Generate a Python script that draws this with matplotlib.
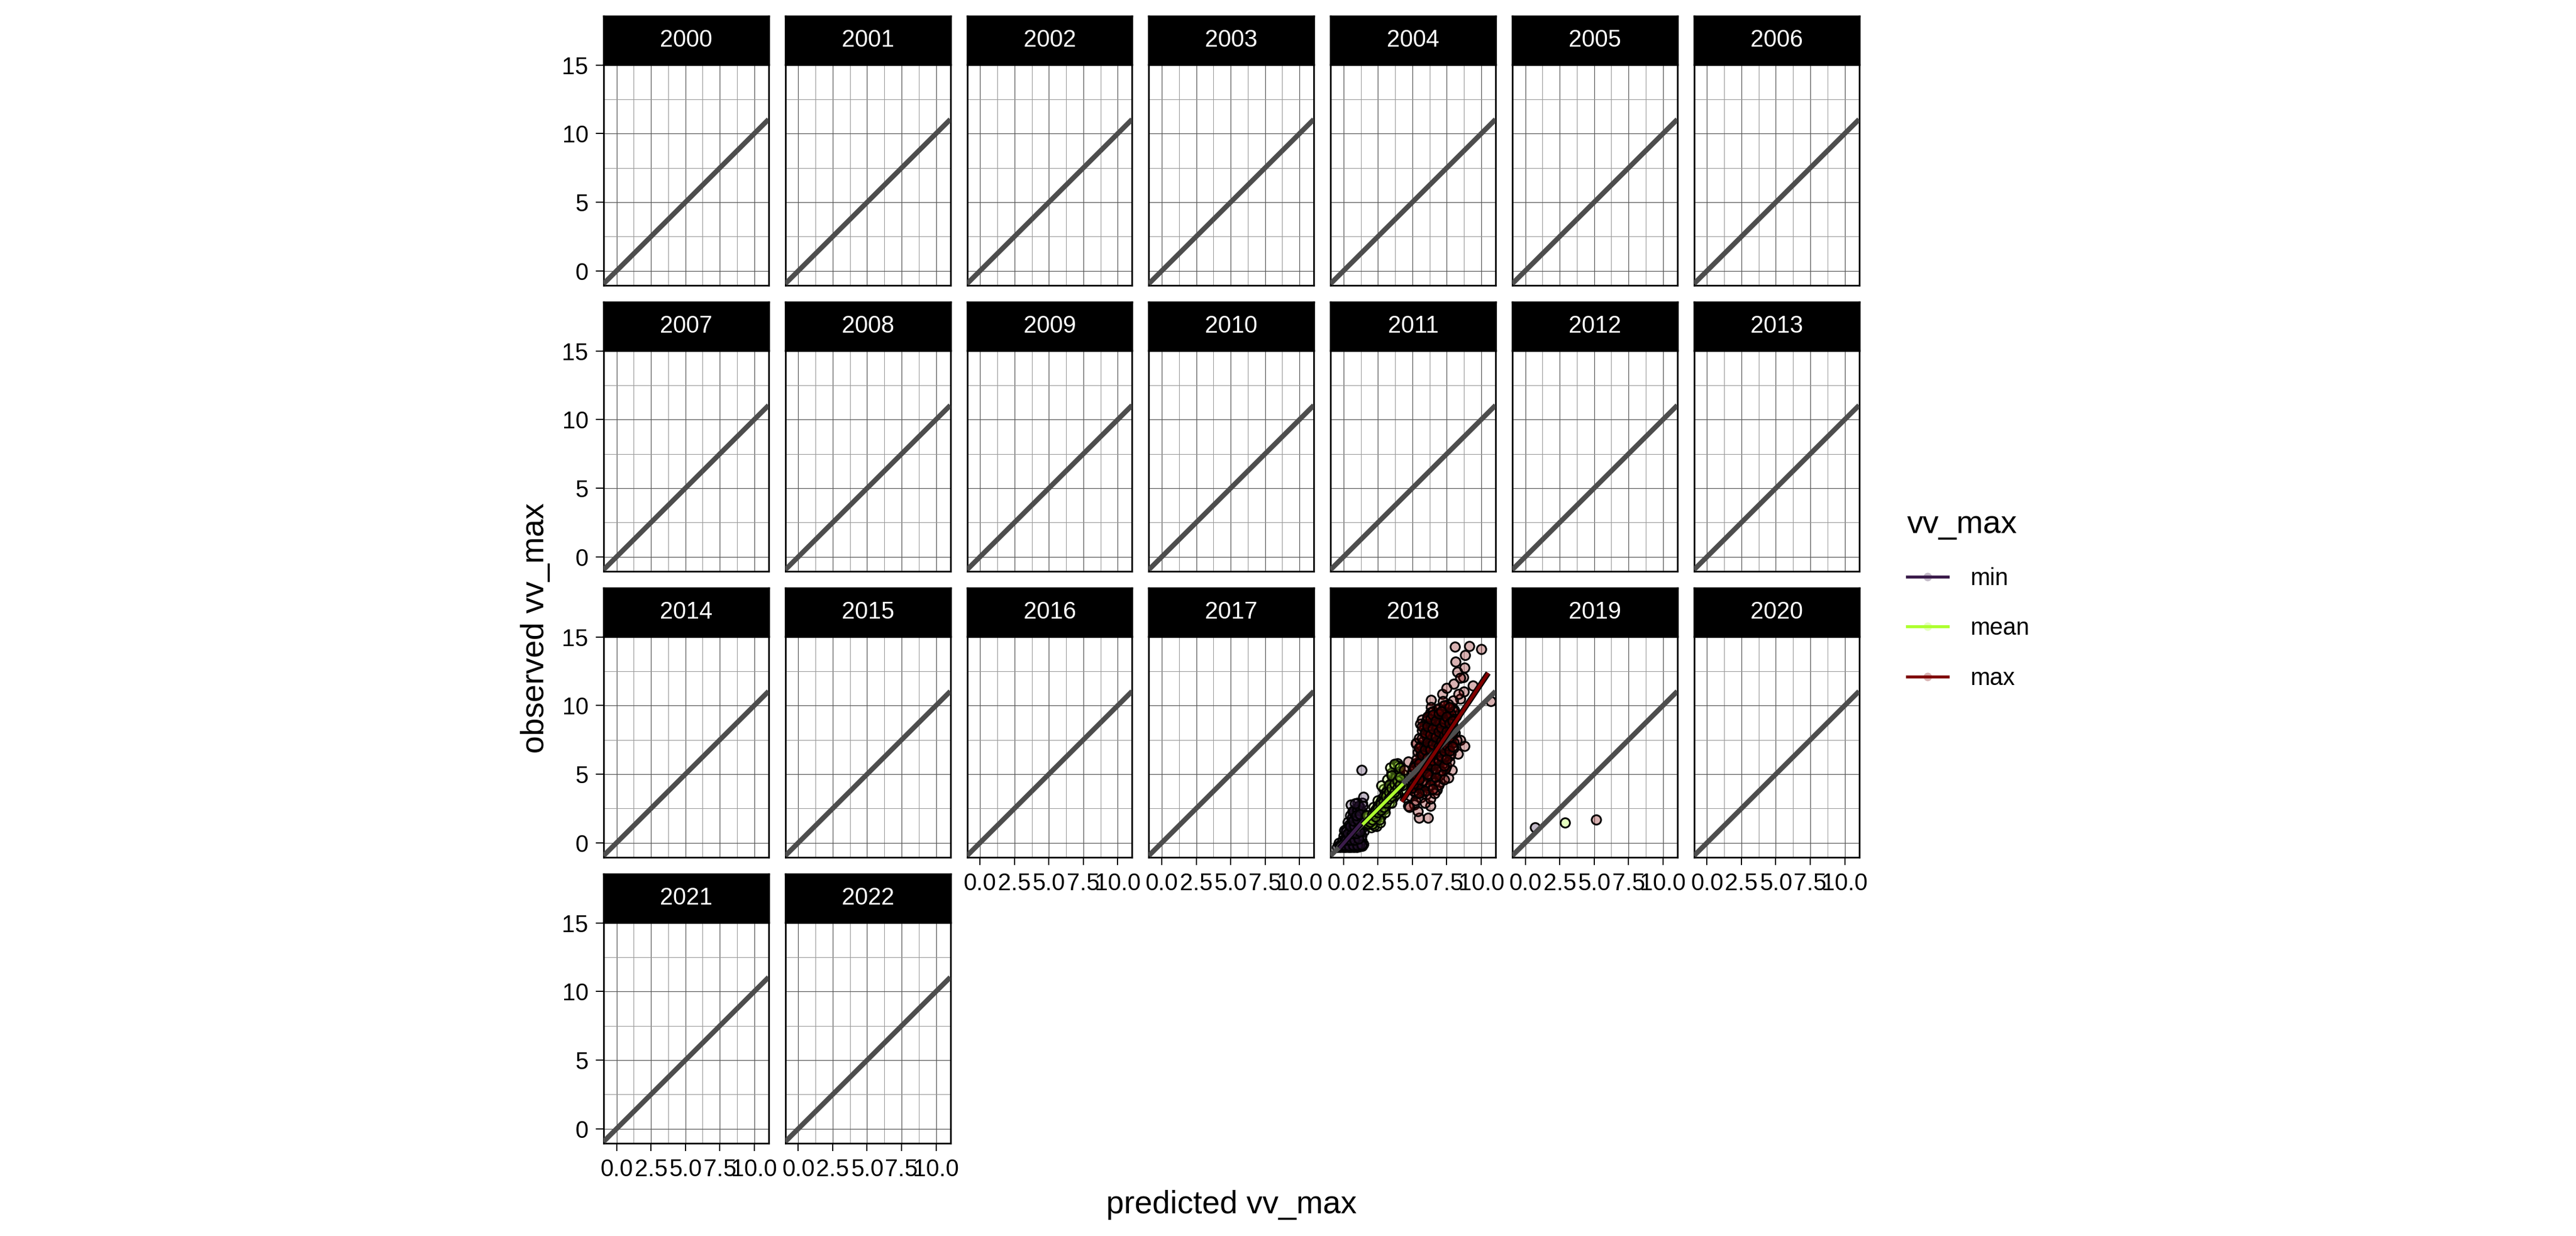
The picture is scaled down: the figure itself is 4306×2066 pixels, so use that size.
import matplotlib
matplotlib.use("Agg")
import matplotlib.pyplot as plt
import matplotlib.patheffects as pe
from matplotlib.lines import Line2D
from matplotlib.ticker import FixedLocator
from matplotlib.colors import to_rgba

plt.rcParams["font.family"] = ["Liberation Sans", "DejaVu Sans"]

# ---- data -------------------------------------------------------------
years = list(range(2000, 2023))
groups = ["min", "mean", "max"]
group_colors = {"min": "#3B1C4B", "mean": "#ADFF2F", "max": "#800000"}

# 2018: predicted vs observed, one cloud per statistic
min_x_2018 = [-0.45, -0.25, -0.05, 0.15, 0.35, 0.55, 0.75, 0.95, 1.15, 1.35, 1.45,
              -0.35, -0.1, 0.15, 0.4, 0.7, 1.0, 1.3, 0.0, 0.3, 0.6, 0.9, 1.2,
              0.2, 0.5, 0.8, 1.1, 1.4, 0.3, 0.6, 0.9, 1.2, 0.5, 0.8, 1.1, 1.4,
              0.9, 1.2, 1.0, 1.35, 0.55, 1.42, 1.32, 1.47, 1.55, 0.05, 0.65,
              -0.3, 0.0, 0.3, 0.6, 0.9, 1.2, 0.1, 0.4, 0.7, 1.0, 1.3, 0.2, 0.5,
              0.8, 1.1, 0.4, 0.7, 1.0, 1.3, 0.6, 0.9, 1.2, 0.7, 1.0, 1.3, 1.1,
              1.4, 0.85,
              -0.2, 0.1, 0.4, 0.7, 1.0, 1.3, 0.2, 0.5, 0.8, 1.1, 0.3, 0.6, 0.9,
              1.2, 0.5, 0.8, 1.1, 0.7, 1.0, 0.9, 1.2]
min_y_2018 = [-0.3, -0.3, -0.33, -0.3, -0.32, -0.3, -0.32, -0.3, -0.28, -0.25, -0.1,
              0.0, 0.15, 0.05, 0.1, 0.05, 0.1, 0.2, 0.5, 0.6, 0.5, 0.6, 0.7,
              1.0, 1.1, 1.0, 1.2, 1.1, 1.5, 1.6, 1.5, 1.7, 2.0, 2.1, 2.2, 2.0,
              2.5, 2.6, 2.9, 2.9, 2.78, 3.36, 5.29, 0.84, 1.5, 0.9, 2.3,
              -0.2, -0.1, -0.15, -0.1, -0.15, -0.1, 0.3, 0.4, 0.3, 0.4, 0.5, 0.8,
              0.8, 0.8, 0.9, 1.3, 1.3, 1.4, 1.4, 1.8, 1.8, 1.9, 2.3, 2.4, 2.3,
              2.7, 2.7, 2.85,
              -0.25, -0.2, -0.25, -0.2, -0.2, -0.15, 0.2, 0.2, 0.2, 0.3, 0.7, 0.7,
              0.7, 0.8, 1.2, 1.2, 1.3, 1.6, 1.7, 2.0, 2.1]

mean_x_2018 = [1.7, 1.9, 2.1, 2.3, 2.5, 2.4, 2.7, 2.6, 2.9, 2.8, 3.1, 3.0, 3.3, 3.2,
               3.5, 3.4, 3.7, 3.6, 3.9, 3.8, 4.1, 4.0, 3.7, 4.2, 4.3, 3.9, 3.6, 3.3,
               3.0, 2.7, 2.4, 2.0, 1.8, 2.2, 2.5, 2.9, 3.2, 3.5, 3.9, 4.3, 2.22,
               2.66, 2.0, 2.51, 3.24, 3.53, 3.82, 3.97, 3.39, 3.68, 4.04, 4.11,
               4.26, 2.73, 1.64, 2.95, 2.37,
               1.8, 2.0, 2.2, 2.2, 2.4, 2.4, 2.6, 2.6, 2.8, 2.8, 3.0, 3.0, 3.2, 3.2,
               3.4, 3.4, 3.6, 3.6, 3.8, 3.8, 4.0, 4.0, 4.1, 3.5, 3.3, 3.1, 2.9, 2.7,
               2.5, 2.3, 2.1, 2.6, 3.0, 3.5, 3.8, 4.2,
               1.9, 2.1, 2.1, 2.3, 2.3, 2.5, 2.5, 2.7, 2.7, 2.9, 2.9, 3.1, 3.1, 3.3,
               3.3, 3.5, 3.5, 3.7, 3.7, 3.9, 3.9, 4.1, 4.1]
mean_y_2018 = [1.3, 1.6, 1.9, 1.5, 2.0, 2.4, 2.2, 2.8, 2.7, 3.2, 3.0, 3.5, 3.4, 3.9,
               3.8, 4.3, 4.1, 4.7, 4.6, 5.1, 4.9, 5.4, 5.6, 4.3, 3.9, 3.6, 3.3, 2.9,
               2.5, 1.9, 1.2, 1.1, 2.0, 2.6, 3.1, 3.9, 4.6, 5.1, 5.8, 5.0, 1.25,
               1.47, 1.83, 2.56, 3.87, 4.45, 5.03, 5.61, 5.47, 5.76, 5.17, 4.45,
               4.16, 4.16, 1.98, 2.41, 1.98,
               1.4, 1.6, 1.8, 2.2, 1.8, 2.1, 2.3, 2.6, 2.5, 2.9, 2.8, 3.2, 3.1, 3.6,
               3.5, 3.9, 3.8, 4.4, 4.2, 4.8, 4.5, 5.0, 5.5, 4.9, 4.2, 3.7, 3.4, 3.0,
               2.7, 2.4, 1.4, 1.7, 2.2, 2.9, 3.5, 4.6,
               1.5, 1.7, 2.1, 1.9, 2.3, 2.2, 2.5, 2.4, 2.8, 2.6, 3.0, 2.9, 3.4, 3.2,
               3.7, 3.4, 4.0, 3.7, 4.3, 4.0, 4.5, 4.2, 4.8]

max_x_2018 = [4.99, 5.42, 5.86, 5.13, 5.57, 6.15, 6.44, 6.0, 6.73, 7.02, 6.44, 6.15,
              6.73, 7.31, 7.6, 7.02, 6.44, 5.86, 7.6, 7.75, 7.46, 7.02, 7.6, 7.89,
              7.02, 6.44, 5.86, 5.28, 4.84, 5.71, 6.15, 6.8, 5.13, 4.69, 6.29, 5.49,
              6.15, 4.4, 4.69, 5.28, 5.57, 5.71, 6.15, 6.73, 7.46, 7.9, 8.04, 8.47,
              7.96, 7.6, 6.37, 6.37, 7.17, 7.46, 8.01, 8.76, 9.38, 8.69, 8.26, 8.79,
              8.15, 8.84, 8.11, 9.14, 10.0, 10.68, 8.47, 8.79, 8.3, 5.28, 5.57, 6.73,
              8.18, 7.75, 7.31, 8.33, 8.47,
              5.0, 5.2, 5.5, 5.8, 6.0, 6.3, 6.6, 6.9, 7.2, 7.5, 7.8, 6.2, 6.5, 6.8,
              7.1, 7.4, 5.6, 5.9, 6.1, 6.4, 6.6, 7.0, 7.3, 7.7, 7.9, 8.1, 7.8, 7.5,
              7.2, 6.9, 6.6, 6.3, 5.9, 5.5, 5.3, 5.1, 4.9, 5.3, 5.7, 6.1, 6.4, 6.7,
              7.0, 7.3, 7.6, 7.9, 8.0, 7.6, 7.2, 6.8, 6.3, 6.0, 5.7, 5.5, 5.9, 6.2,
              7.4, 7.7, 8.0, 8.2, 7.0, 6.6, 6.2, 5.8, 6.9, 7.2, 7.5, 6.0, 5.6, 5.2,
              4.8, 5.4, 5.9, 6.3, 6.6,
              5.0, 5.0, 5.2, 5.2, 5.4, 5.4, 5.4, 5.6, 5.6, 5.6, 5.8, 5.8, 5.8, 6.0,
              6.0, 6.0, 6.2, 6.2, 6.2, 6.2, 6.4, 6.4, 6.4, 6.4, 6.6, 6.6, 6.6, 6.6,
              6.8, 6.8, 6.8, 6.8, 7.0, 7.0, 7.0, 7.2, 7.2, 7.2, 7.2, 7.4, 7.4, 7.4,
              7.4, 7.6, 7.6, 7.6, 7.8, 7.8, 7.8, 7.8, 8.0, 8.0, 8.0, 7.1, 6.7, 6.3,
              5.9, 5.5, 6.9, 7.3, 6.5, 5.7, 6.1, 6.5, 6.9, 7.3, 7.7,
              5.1, 5.1, 5.3, 5.3, 5.5, 5.5, 5.5, 5.7, 5.7, 5.7, 5.9, 5.9, 5.9, 6.1,
              6.1, 6.1, 6.1, 6.3, 6.3, 6.3, 6.3, 6.5, 6.5, 6.5, 6.5, 6.7, 6.7, 6.7,
              6.7, 6.9, 6.9, 6.9, 6.9, 7.1, 7.1, 7.1, 7.1, 7.3, 7.3, 7.3, 7.3, 7.5,
              7.5, 7.5, 7.5, 7.7, 7.7, 7.7, 7.9, 7.9, 7.9]
max_y_2018 = [4.16, 4.74, 5.17, 5.61, 6.05, 5.9, 6.48, 6.77, 7.06, 7.65, 7.65, 8.08,
              8.52, 8.66, 8.23, 9.1, 8.81, 8.52, 7.06, 6.34, 5.61, 5.32, 4.74, 5.32,
              4.45, 4.74, 4.3, 3.58, 3.43, 3.72, 4.01, 3.87, 2.78, 2.7, 2.7, 1.83,
              1.83, 5.32, 5.9, 7.21, 6.92, 8.95, 9.1, 9.39, 9.39, 9.85, 9.68, 10.48,
              10.38, 9.83, 10.41, 9.9, 10.84, 11.28, 11.57, 11.02, 11.47, 12.08,
              12.47, 12.76, 13.2, 13.68, 14.29, 14.33, 14.11, 10.31, 7.5, 7.06, 6.48,
              7.28, 8.66, 3.87, 9.24, 8.52, 9.97, 10.84, 12.0,
              4.5, 5.0, 5.3, 5.6, 6.0, 6.2, 6.6, 7.0, 7.3, 7.7, 8.0, 7.2, 7.8, 8.2,
              8.5, 8.9, 6.5, 7.0, 7.6, 8.3, 9.0, 9.3, 9.6, 9.2, 8.6, 8.0, 7.2, 6.6,
              6.1, 5.6, 5.1, 4.6, 4.3, 4.0, 4.4, 3.8, 4.9, 5.7, 6.1, 6.5, 7.0, 7.4,
              7.9, 8.2, 8.5, 9.0, 9.6, 10.1, 10.3, 9.7, 9.5, 8.9, 8.2, 7.6, 7.9, 8.1,
              5.4, 5.9, 6.9, 7.5, 4.9, 4.4, 5.4, 5.0, 6.4, 6.9, 7.2, 3.5, 3.3, 3.1,
              2.6, 2.3, 2.9, 3.2, 3.6,
              4.0, 5.2, 4.6, 5.8, 4.2, 5.5, 6.6, 4.8, 5.9, 7.1, 4.5, 6.3, 7.4, 5.2,
              6.7, 7.8, 4.9, 6.0, 7.0, 8.4, 5.6, 6.5, 7.6, 8.8, 5.8, 6.9, 8.0, 8.6,
              6.1, 7.2, 8.4, 9.1, 6.6, 7.6, 8.7, 5.8, 7.1, 8.0, 9.0, 6.3, 7.5, 8.4,
              9.4, 6.9, 7.9, 9.0, 6.5, 7.6, 8.4, 9.4, 7.3, 8.2, 9.0, 5.2, 4.8, 4.2,
              3.8, 3.6, 4.2, 4.6, 3.9, 8.5, 9.2, 9.6, 9.8, 10.0, 9.9,
              4.3, 5.5, 4.9, 6.1, 4.6, 5.8, 6.9, 5.2, 6.4, 7.6, 5.5, 6.8, 8.0, 5.0,
              6.2, 7.3, 8.5, 5.7, 6.8, 7.9, 9.0, 6.0, 7.2, 8.3, 9.3, 5.4, 6.5, 7.7,
              8.9, 6.0, 7.0, 8.1, 9.4, 6.3, 7.4, 8.4, 9.6, 5.6, 6.7, 7.8, 8.8, 6.1,
              7.1, 8.1, 9.2, 6.7, 7.7, 8.7, 7.0, 8.0, 8.9]

# 2019: a single value per statistic
x_2019 = [0.71, 2.88, 5.15]
y_2019 = [1.10, 1.45, 1.67]

# linear fits shown for 2018 (start x, end x, slope, intercept)
fit_x0 = [-0.30, 1.38, 4.23]
fit_x1 = [1.50, 4.33, 10.51]
fit_slope = [1.15, 1.01, 1.494]
fit_icpt = [-0.05, -0.07, -3.33]

x_ticks = [0.0, 2.5, 5.0, 7.5, 10.0]
x_tick_labels = ["0.0", "2.5", "5.0", "7.5", "10.0"]
y_ticks = [0, 5, 10, 15]
x_minor = [1.25, 3.75, 6.25, 8.75]
y_minor = [2.5, 7.5, 12.5]

# ---- layout (pixels) -------------------------------------------------
W, H = 4306, 2066
DPI = 300
PANEL_L, PANEL_W, COL_STEP = 1009, 275.7, 303.8
STRIP_T, STRIP_H, PANEL_T, PANEL_H, ROW_STEP = 27, 81, 108, 369, 478
NCOL = 7

TICK_FS = 9.5
TITLE_FS = 12.8


def rect(left, top, width, height):
    return [left / W, 1 - (top + height) / H, width / W, height / H]


def points_for(year):
    if year == 2018:
        return [(min_x_2018, min_y_2018), (mean_x_2018, mean_y_2018),
                (max_x_2018, max_y_2018)]
    if year == 2019:
        return [([x_2019[i]], [y_2019[i]]) for i in range(3)]
    return []


fig = plt.figure(figsize=(W / DPI, H / DPI), dpi=DPI)

n = len(years)
for i, year in enumerate(years):
    r, c = divmod(i, NCOL)
    left = PANEL_L + c * COL_STEP
    ax = fig.add_axes(rect(left, PANEL_T + r * ROW_STEP, PANEL_W, PANEL_H))
    ax.set_xlim(-0.94, 11.04)
    ax.set_ylim(-1.06, 15.03)

    ax.xaxis.set_major_locator(FixedLocator(x_ticks))
    ax.xaxis.set_minor_locator(FixedLocator(x_minor))
    ax.yaxis.set_major_locator(FixedLocator(y_ticks))
    ax.yaxis.set_minor_locator(FixedLocator(y_minor))
    ax.grid(which="major", color="#5a5a5a", lw=0.3)
    ax.grid(which="minor", color="#9a9a9a", lw=0.25)
    ax.set_axisbelow(True)
    for sp in ax.spines.values():
        sp.set_color("black")
        sp.set_linewidth(0.65)

    bottom = i + NCOL >= n
    first = c == 0
    ax.tick_params(which="minor", length=0)
    ax.tick_params(axis="x", which="major", length=3.1 if bottom else 0,
                   width=0.45, pad=3.0, labelsize=TICK_FS, colors="black",
                   labelbottom=bottom)
    ax.tick_params(axis="y", which="major", length=3.1 if first else 0,
                   width=0.45, pad=3.0, labelsize=TICK_FS, colors="black",
                   labelleft=first)
    if bottom:
        ax.set_xticklabels(x_tick_labels)

    for g, (xs, ys) in zip(groups, points_for(year)):
        col = group_colors[g]
        ax.scatter(xs, ys, s=14, facecolors=[to_rgba(col, 0.3)],
                   edgecolors="black", linewidths=0.7, zorder=2)

    ax.axline((0, 0), slope=1, color="#4D4D4D", lw=2.0, zorder=3,
              solid_capstyle="butt")

    if year == 2018:
        for g, x0, x1, b, a in zip(groups, fit_x0, fit_x1, fit_slope, fit_icpt):
            ax.plot([x0, x1], [a + b * x0, a + b * x1], color=group_colors[g],
                    lw=1.3, zorder=4, solid_capstyle="butt",
                    path_effects=[pe.Stroke(linewidth=2.3, foreground="black"),
                                  pe.Normal()])

    sax = fig.add_axes(rect(left, STRIP_T + r * ROW_STEP, PANEL_W, STRIP_H))
    sax.set_facecolor("black")
    sax.set_xticks([])
    sax.set_yticks([])
    for sp in sax.spines.values():
        sp.set_color("black")
    sax.text(0.5, 0.5, str(year), color="white", fontsize=TICK_FS,
             ha="center", va="center", transform=sax.transAxes)

fig.text(2058 / W, 1 - 2028 / H, "predicted vv_max", fontsize=TITLE_FS,
         ha="center", va="baseline")
fig.text(895 / W, 1 - 1050 / H, "observed vv_max", fontsize=TITLE_FS,
         rotation=90, ha="center", va="center")

handles = [Line2D([], [], color=group_colors[g], lw=1.2, marker="o",
                  markersize=3.4, markerfacecolor=to_rgba(group_colors[g], 0.3),
                  markeredgecolor="none") for g in groups]
fig.legend(handles, groups, title="vv_max", loc="upper left",
           bbox_to_anchor=(3188 / W, 1 - 852 / H), frameon=False,
           fontsize=TICK_FS, title_fontsize=TITLE_FS, handlelength=1.72,
           handletextpad=0.95, labelspacing=1.15, borderpad=0,
           borderaxespad=0, alignment="left")

fig.savefig("out.png", dpi=DPI, facecolor="white")
